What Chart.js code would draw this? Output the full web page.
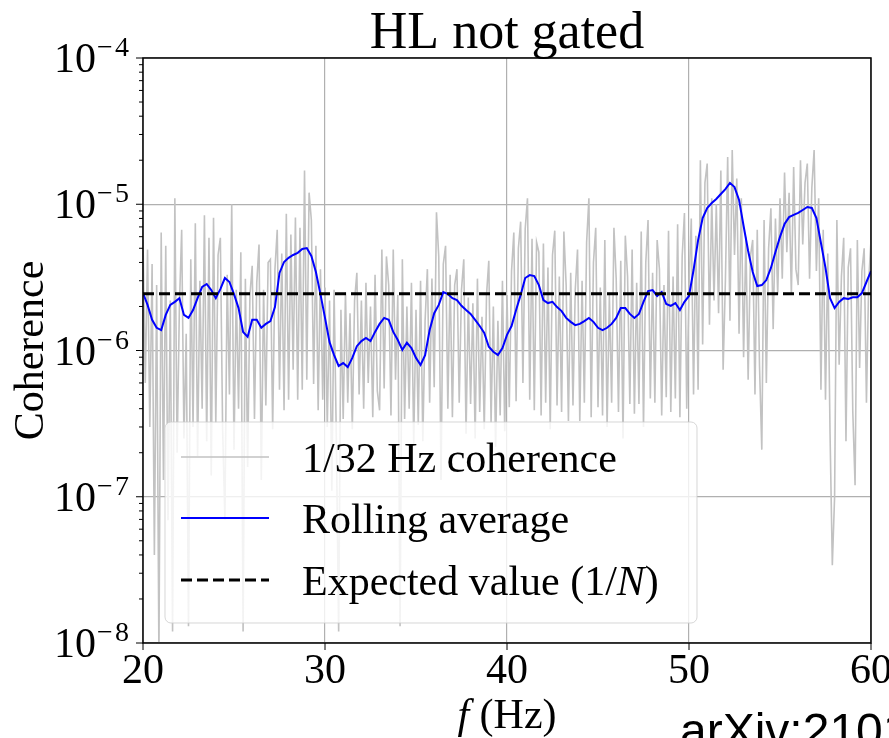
<!DOCTYPE html>
<html>
<head>
<meta charset="utf-8">
<script src="https://cdn.jsdelivr.net/npm/chart.js@4.4.1/dist/chart.umd.min.js"></script>
<style>
  html, body { margin: 0; padding: 0; background: #fff; }
  canvas { display: block; }
</style>
</head>
<body>
<canvas id="chart" width="889" height="738"></canvas>
<script>
// 1/32 Hz coherence, every 1/8 Hz from 20 Hz
const GREY_START = 20;
const GREY_STEP  = 0.125;
const greyVals = [
  5.7e-6, 6.0e-7, 4.9e-6, 3.0e-7, 3.9e-6, 4.0e-8, 2.8e-6, 8e-9,
  6.4e-6, 1.3e-7, 5.2e-6, 6.9e-8, 2.2e-6, 1.2e-8, 1.1e-5, 2.0e-7,
  2.0e-6, 6.7e-6, 2.5e-7, 1.3e-6, 1.3e-8, 4.2e-6, 3.0e-7, 7.4e-6,
  1.9e-7, 3.0e-6, 4.0e-7, 8.4e-6, 2.4e-7, 5.9e-6, 1.4e-7, 8.1e-6,
  3.2e-7, 4.5e-6, 5.9e-6, 2.9e-7, 7.0e-8, 3.3e-6, 5.0e-7, 1.0e-5,
  2.1e-7, 2.6e-6, 4.0e-7, 4.7e-6, 1.2e-8, 3.1e-6, 1.6e-7, 2.4e-6,
  3.8e-6, 3.4e-7, 2.9e-6, 5.3e-6, 1.3e-7, 2.6e-6, 4.2e-7, 4.0e-6,
  4.2e-6, 2.9e-7, 3.6e-6, 6.7e-6, 5.4e-7, 4.6e-6, 3.9e-7, 8.6e-6,
  4.6e-7, 6.2e-6, 7.4e-7, 8.1e-6, 4.6e-7, 6.9e-6, 5.4e-7, 1.7e-5,
  6.3e-7, 1.2e-5, 7.8e-6, 5.9e-7, 5.2e-6, 3.9e-7, 3.6e-6, 4.6e-7,
  2.7e-6, 3.0e-7, 2.2e-6, 1.1e-7, 2.6e-6, 2.4e-7, 1.2e-8, 1.9e-6,
  3.4e-7, 2.5e-6, 4.4e-7, 1.8e-6, 2.9e-7, 2.2e-6, 3.4e-6, 5.0e-7,
  2.2e-6, 4.0e-7, 2.9e-6, 6.0e-7, 2.0e-6, 3.5e-7, 3.3e-6, 5.3e-7,
  3.9e-7, 4.9e-6, 5.5e-7, 4.4e-6, 2.8e-6, 3.6e-7, 4.9e-6, 6.3e-7,
  2.4e-6, 1.3e-8, 4.2e-6, 3.4e-7, 2.0e-6, 4.0e-7, 2.9e-6, 2.3e-7,
  1.9e-6, 3.1e-7, 3.0e-6, 2.4e-7, 1.6e-6, 3.6e-6, 4.4e-7, 3.1e-6,
  5.6e-7, 8.8e-6, 4.4e-6, 1.3e-7, 3.9e-6, 5.2e-6, 4.0e-7, 3.3e-6,
  3.5e-7, 2.8e-6, 3.6e-6, 4.4e-7, 2.6e-6, 4.2e-6, 2.7e-7, 2.3e-6,
  4.3e-7, 2.1e-6, 2.5e-7, 3.1e-6, 3.8e-7, 1.7e-6, 2.9e-7, 2.4e-6,
  4.1e-6, 3.2e-7, 2.0e-6, 2.2e-7, 1.6e-6, 3.6e-7, 3.0e-6, 2.8e-7,
  2.4e-6, 4.1e-7, 3.5e-6, 6.4e-6, 4.5e-7, 5.0e-6, 7.6e-6, 6.0e-7,
  6.8e-6, 1.1e-5, 4.6e-7, 5.8e-6, 3.9e-7, 5.5e-6, 4.7e-6, 3.6e-7,
  5.4e-6, 4.4e-7, 3.7e-6, 2.9e-7, 4.5e-6, 6.6e-6, 4.2e-7, 3.2e-6,
  3.8e-7, 6.5e-6, 2.8e-6, 3.3e-7, 3.4e-6, 4.2e-7, 2.6e-6, 4.9e-6,
  3.3e-7, 3.0e-6, 4.4e-7, 5.5e-6, 1.1e-5, 3.5e-7, 4.0e-6, 6.9e-6,
  4.1e-7, 2.7e-6, 3.6e-7, 5.7e-6, 3.0e-7, 2.4e-6, 4.4e-7, 6.9e-6,
  3.1e-6, 3.8e-7, 4.1e-6, 2.5e-7, 6.1e-6, 3.2e-6, 4.3e-7, 4.9e-6,
  3.7e-7, 2.9e-6, 4.3e-7, 6.5e-6, 3.0e-7, 4.0e-6, 7.8e-6, 4.7e-7,
  3.4e-6, 4.4e-7, 5.7e-6, 3.6e-6, 3.6e-7, 2.8e-6, 4.8e-7, 6.6e-6,
  3.8e-7, 3.2e-6, 4.7e-7, 7.3e-6, 3.5e-7, 4.4e-6, 8.7e-6, 4.0e-7,
  2.7e-6, 8.0e-6, 5.0e-7, 6.1e-6, 5.4e-7, 2.0e-5, 1.1e-6, 1.4e-5,
  1.9e-5, 1.5e-6, 1.1e-5, 2.2e-6, 1.0e-5, 1.8e-6, 1.7e-5, 7.4e-7,
  3.0e-6, 2.1e-5, 1.6e-6, 2.35e-5, 4.5e-6, 1.5e-5, 1.3e-6, 1.1e-5,
  9.0e-7, 6.0e-6, 6.3e-7, 4.4e-6, 5.7e-6, 5.0e-7, 6.7e-6, 7.8e-7,
  2.1e-7, 7.8e-6, 6.0e-7, 5.0e-6, 9.4e-6, 1.4e-6, 8.0e-6, 2.4e-6,
  1.1e-5, 3.1e-6, 1.65e-5, 4.7e-6, 1.2e-5, 2.4e-6, 1.8e-5, 3.6e-6,
  2.8e-6, 2.0e-5, 5.3e-6, 1.4e-5, 1.9e-5, 3.1e-6, 1.3e-5, 2.35e-5,
  3.5e-6, 1.1e-5, 5.4e-7, 6.7e-6, 4.6e-7, 4.6e-6, 2.7e-7, 3.4e-8,
  1.0e-7, 7.8e-6, 8.0e-7, 3.2e-6, 5.9e-6, 2.4e-7, 3.7e-6, 5.0e-6,
  3.8e-7, 1.2e-7, 5.7e-6, 7.6e-7, 3.5e-6, 5.0e-6, 4.4e-7, 3.0e-6, 5.7e-6
];

// rolling average, read every 1/4 Hz from 20 Hz
const AVG_START = 20;
const AVG_STEP  = 0.25;
const avgVals = [
  2.47e-6, 2.05e-6, 1.62e-6, 1.43e-6, 1.38e-6, 1.75e-6, 2.05e-6, 2.15e-6,
  2.28e-6, 1.75e-6, 1.67e-6, 1.89e-6, 2.28e-6, 2.72e-6, 2.85e-6, 2.59e-6,
  2.28e-6, 2.63e-6, 3.13e-6, 2.94e-6, 2.43e-6, 1.95e-6, 1.34e-6, 1.24e-6,
  1.62e-6, 1.62e-6, 1.43e-6, 1.52e-6, 1.59e-6, 1.98e-6, 3.39e-6, 4.03e-6,
  4.30e-6, 4.50e-6, 4.65e-6, 4.94e-6, 5.02e-6, 4.43e-6, 3.44e-6, 2.43e-6,
  1.67e-6, 1.14e-6, 9.3e-7, 7.84e-7, 8.2e-7, 7.7e-7, 8.9e-7, 1.07e-6,
  1.16e-6, 1.22e-6, 1.16e-6, 1.34e-6, 1.52e-6, 1.67e-6, 1.62e-6, 1.34e-6,
  1.18e-6, 1.01e-6, 1.13e-6, 1.04e-6, 8.9e-7, 7.96e-7, 9.3e-7, 1.38e-6,
  1.80e-6, 2.05e-6, 2.51e-6, 2.43e-6, 2.28e-6, 2.21e-6, 2.02e-6, 1.89e-6,
  1.78e-6, 1.62e-6, 1.47e-6, 1.32e-6, 1.06e-6, 9.8e-7, 9.3e-7, 1.04e-6,
  1.28e-6, 1.47e-6, 1.89e-6, 2.40e-6, 3.13e-6, 3.28e-6, 3.23e-6, 2.80e-6,
  2.21e-6, 2.11e-6, 2.15e-6, 1.98e-6, 1.86e-6, 1.67e-6, 1.57e-6, 1.49e-6,
  1.52e-6, 1.59e-6, 1.67e-6, 1.57e-6, 1.43e-6, 1.38e-6, 1.43e-6, 1.52e-6,
  1.67e-6, 1.95e-6, 1.95e-6, 1.78e-6, 1.67e-6, 1.78e-6, 2.15e-6, 2.55e-6,
  2.59e-6, 2.36e-6, 2.51e-6, 2.08e-6, 2.02e-6, 2.11e-6, 1.89e-6, 2.15e-6,
  2.36e-6, 3.55e-6, 5.69e-6, 8.05e-6, 9.43e-6, 1.02e-5, 1.086e-5, 1.175e-5,
  1.27e-5, 1.40e-5, 1.31e-5, 1.07e-5, 7.10e-6, 4.79e-6, 3.44e-6, 2.76e-6,
  2.80e-6, 3.03e-6, 3.67e-6, 4.72e-6, 5.98e-6, 7.32e-6, 8.17e-6, 8.45e-6,
  8.72e-6, 9.14e-6, 9.58e-6, 9.43e-6, 8.05e-6, 5.43e-6, 3.67e-6, 2.28e-6,
  1.95e-6, 2.15e-6, 2.28e-6, 2.25e-6, 2.31e-6, 2.31e-6, 2.47e-6, 2.94e-6,
  3.49e-6
];

const EXPECTED = 2.44e-6;           // 1/N
const X_MIN = 20, X_MAX = 60;
const xTicks = [20, 30, 40, 50, 60];
const yTickExp = [-8, -7, -6, -5, -4];

const SERIF = '"Liberation Serif", "Times New Roman", serif';

const greyPts = greyVals.map((v, i) => ({ x: GREY_START + i * GREY_STEP, y: v }));
const avgPts  = avgVals.map((v, i) => ({ x: AVG_START + i * AVG_STEP, y: v }));

// "$...$" parts behave like mathtext: letters in italic
function richRuns(text) {
  const runs = [];
  text.split("$").forEach((part, k) => {
    if (k % 2 === 0) {
      if (part) runs.push({ t: part, it: false });
    } else {
      part.split(/([A-Za-z]+)/).forEach((p, j) => {
        if (p) runs.push({ t: p, it: j % 2 === 1 });
      });
    }
  });
  return runs;
}

function drawRich(ctx, text, x, y, size, align) {
  const runs = richRuns(text);
  const font = it => `${it ? "italic " : ""}${size}px ${SERIF}`;
  let w = 0;
  runs.forEach(r => { ctx.font = font(r.it); r.w = ctx.measureText(r.t).width; w += r.w; });
  let cx = align === "center" ? x - w / 2 : x;
  ctx.textAlign = "left";
  ctx.textBaseline = "alphabetic";
  runs.forEach(r => { ctx.font = font(r.it); ctx.fillText(r.t, cx, y); cx += r.w; });
}

function isDecade(v) {
  const l = Math.log10(v);
  return Math.abs(l - Math.round(l)) < 1e-6;
}

// legend box in the lower left of the axes, matplotlib style
function drawLegend(chart) {
  const { ctx, chartArea: a } = chart;
  const bx = a.left + 22, by = a.top + 364, bw = 532, bh = 201;
  ctx.save();
  ctx.beginPath();
  ctx.roundRect(bx, by, bw, bh, 6);
  ctx.fillStyle = "rgba(255,255,255,0.8)";
  ctx.fill();
  ctx.strokeStyle = "rgba(204,204,204,0.8)";
  ctx.lineWidth = 1;
  ctx.stroke();

  const rows = [35, 96, 158];
  chart.data.datasets.forEach((ds, i) => {
    const ry = by + rows[i];
    ctx.beginPath();
    ctx.strokeStyle = ds.borderColor;
    ctx.lineWidth = Math.min(ds.borderWidth, 3);
    ctx.setLineDash(ds.borderDash || []);
    ctx.moveTo(bx + 16, ry);
    ctx.lineTo(bx + 104, ry);
    ctx.stroke();
    ctx.setLineDash([]);
    ctx.fillStyle = "#000";
    drawRich(ctx, ds.label, bx + 137, ry + 15, 42, "left");
  });
  ctx.restore();
}

const axesDecor = {
  id: "axesDecor",
  afterDatasetsDraw(chart) {
    drawLegend(chart);
  },
  afterDraw(chart) {
    const { ctx, chartArea: a, scales: { x, y } } = chart;
    ctx.save();
    ctx.strokeStyle = "#000";
    ctx.fillStyle = "#000";

    // y ticks: majors and minors, pointing out
    ctx.lineWidth = 1;
    yTickExp.forEach((e, k) => {
      const py = y.getPixelForValue(10 ** e);
      ctx.beginPath(); ctx.moveTo(a.left - 7, py); ctx.lineTo(a.left, py); ctx.stroke();
      if (k < yTickExp.length - 1) {
        for (let m = 2; m <= 9; m++) {
          const pm = y.getPixelForValue(m * 10 ** e);
          ctx.beginPath(); ctx.moveTo(a.left - 4, pm); ctx.lineTo(a.left, pm); ctx.stroke();
        }
      }
      ctx.font = `42px ${SERIF}`;
      ctx.textAlign = "right";
      ctx.textBaseline = "alphabetic";
      ctx.fillText("10", a.left - 47, py + 14);
      ctx.font = `28px ${SERIF}`;
      ctx.textAlign = "left";
      ctx.fillText("\u2212", a.left - 46, py - 2);
      ctx.fillText(String(-e), a.left - 28, py - 2);
    });

    // x ticks
    xTicks.forEach(t => {
      const px = x.getPixelForValue(t);
      ctx.beginPath(); ctx.moveTo(px, a.bottom); ctx.lineTo(px, a.bottom + 7); ctx.stroke();
      ctx.font = `42px ${SERIF}`;
      ctx.textAlign = "center";
      ctx.fillText(String(t), px, a.bottom + 40);
    });

    // frame
    ctx.lineWidth = 1.5;
    ctx.strokeRect(a.left, a.top, a.right - a.left, a.bottom - a.top);

    const cx = (a.left + a.right) / 2;
    drawRich(ctx, "HL not gated", cx, a.top - 10, 52, "center");
    drawRich(ctx, "$f$ (Hz)", cx, a.bottom + 85, 42, "center");

    ctx.save();
    ctx.translate(43, (a.top + a.bottom) / 2);
    ctx.rotate(-Math.PI / 2);
    drawRich(ctx, "Coherence", 0, 0, 42, "center");
    ctx.restore();

    // source note, runs off the page edge
    ctx.font = '48px "Liberation Sans", Arial, sans-serif';
    ctx.textAlign = "left";
    ctx.fillText("arXiv:2101", 680, 747);
    ctx.restore();
  }
};

new Chart(document.getElementById("chart"), {
  type: "line",
  data: {
    datasets: [
      {
        label: "1/32 Hz coherence",
        data: greyPts,
        borderColor: "#c2c2c2",
        borderWidth: 1.6,
        pointRadius: 0,
        tension: 0,
        order: 3,
      },
      {
        label: "Rolling average",
        data: avgPts,
        borderColor: "#0000ff",
        borderWidth: 2,
        pointRadius: 0,
        tension: 0,
        order: 2,
      },
      {
        label: "Expected value ($1/N$)",
        data: [{ x: X_MIN, y: EXPECTED }, { x: X_MAX, y: EXPECTED }],
        borderColor: "#000000",
        borderWidth: 3,
        borderDash: [11, 5],
        pointRadius: 0,
        order: 1,
      },
    ],
  },
  options: {
    responsive: false,
    animation: false,
    layout: { padding: { left: 0, right: 18, top: 58, bottom: 0 } },
    scales: {
      x: {
        type: "linear",
        min: X_MIN,
        max: X_MAX,
        ticks: { display: false, stepSize: 10 },
        grid: { color: "#b0b0b0", lineWidth: 1.2, drawTicks: false },
        border: { display: false },
        afterFit: s => { s.height = 95; },
      },
      y: {
        type: "logarithmic",
        min: 1e-8,
        max: 1e-4,
        ticks: { display: false },
        grid: {
          color: c => (c.tick && isDecade(c.tick.value)) ? "#b0b0b0" : "rgba(0,0,0,0)",
          lineWidth: 1.2,
          drawTicks: false,
        },
        border: { display: false },
        afterFit: s => { s.width = 143; },
      },
    },
    plugins: {
      legend: { display: false },
      tooltip: { enabled: false },
    },
  },
  plugins: [axesDecor],
});
</script>
</body>
</html>
